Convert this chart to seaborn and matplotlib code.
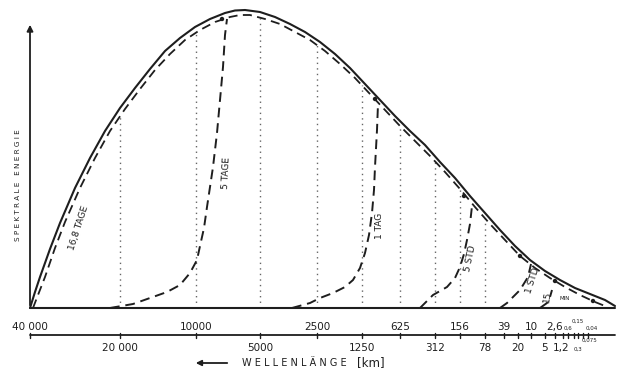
import numpy as np
import matplotlib
matplotlib.use("Agg")
import matplotlib.pyplot as plt
import seaborn as sns

# Lage entlang der Wellenlaengen-Achse (0 = 40 000 km), Energie in willk. Einheiten
env_x = [0, 5, 10, 20, 30, 45, 60, 75, 90, 105, 120, 135, 150, 165, 180, 195, 205, 215,
         230, 245, 260, 275, 290, 305, 320, 335, 350, 365, 380, 395, 410, 425, 440, 455,
         470, 485, 500, 515, 530, 545, 560, 575, 585]
env_y = [0, 16, 31, 59, 85, 120, 150, 177, 200, 220, 239, 257, 270, 281, 289, 295, 297.5, 298,
         296, 291, 284, 276, 266, 254, 240, 224, 208, 192, 177, 163, 146, 130, 112, 95,
         78, 62, 48, 37, 28, 20, 14, 8, 2]

dash_x = [3, 8, 15, 25, 35, 50, 65, 80, 95, 110, 125, 140, 155, 170, 185, 200, 210, 220,
          235, 250, 265, 280, 295, 310, 325, 340, 355, 370, 385, 400, 415, 430, 445, 460,
          475, 490, 505, 520, 535, 550, 565, 575]
dash_y = [0, 13, 31, 60, 86, 120, 150, 177, 199, 219, 238, 254, 268, 278, 286, 291, 293, 293,
          289, 284, 276, 268, 257, 244, 230, 214, 198, 182, 167, 152, 136, 119, 101, 84,
          68, 52, 40, 30, 21, 13, 6, 2]

# Zeitliche Entwicklung (Aeste vom Boden bis zur Einmuendung)
tage5_x = [80, 103, 120, 137, 150, 160, 167, 170, 174, 177, 183, 187, 190, 193, 195, 197]
tage5_y = [0, 4, 10, 16, 23, 35, 48, 62, 80, 101, 141, 175, 208, 241, 273, 289]
tag1_x = [262, 280, 290, 303, 315, 323, 330, 335, 339, 342, 344, 345, 347, 348]
tag1_y = [0, 5, 10, 15, 21, 28, 40, 55, 73, 95, 118, 141, 178, 204]
std5_x = [390, 403, 417, 425, 430, 434, 437, 440, 442]
std5_y = [0, 13, 21, 30, 41, 54, 68, 84, 102]
std1_x = [470, 477, 490, 498, 501]
std1_y = [0, 5, 18, 31, 44]
min15_x = [510, 517, 520, 522]
min15_y = [0, 5, 11, 18]

dots_x = [192, 345, 434, 490, 525, 563]
dots_y = [289, 209, 112, 52, 27, 7]

# Wellenlaengen-Skala
tick_pos = [0, 90, 166, 230, 287, 332, 370, 405, 430, 455, 474, 488, 501, 515, 525, 533,
            538, 544, 548, 553, 558]
tick_lab = ["40 000", "20 000", "10000", "5000", "2500", "1250", "625", "312", "156", "78",
            "39", "20", "10", "5", "2,6", "1,2", "0,6", "0,3", "0,15", "0,075", "0,04"]

curve_labels = ["16,8 TAGE", "5 TAGE", "1 TAG", "5 STD", "1 STD", "15"]
label_x = [49, 196, 349, 440, 503, 517]
label_y = [80, 135, 82, 50, 27, 11]
label_rot = [72, 87, 90, 78, 72, 80]

ink = "#1e1e1e"
sns.set_style("white")
plt.rcParams["font.family"] = ["DejaVu Sans"]

fig = plt.figure(figsize=(6.24, 3.74), dpi=100)
ax = fig.add_axes([0, 0, 1, 1])
ax.set_xlim(-30, 594)
ax.set_ylim(-66, 308)
ax.axis("off")

# gepunktete Senkrechte bis zur gestrichelten Kurve
for p in tick_pos[1:10]:
    top = np.interp(p, dash_x, dash_y)
    ax.plot([p, p], [0, top], color="#666666", lw=1.0, ls=(0, (1, 3)))

sns.lineplot(x=env_x, y=env_y, ax=ax, color=ink, lw=1.5, sort=False, estimator=None)
sns.lineplot(x=dash_x, y=dash_y, ax=ax, color=ink, lw=1.3, sort=False, estimator=None,
             linestyle=(0, (5, 3)))
for bx, by in [(tage5_x, tage5_y), (tag1_x, tag1_y), (std5_x, std5_y),
               (std1_x, std1_y), (min15_x, min15_y)]:
    sns.lineplot(x=bx, y=by, ax=ax, color=ink, lw=1.4, sort=False, estimator=None,
                 linestyle=(0, (5, 3)))
sns.scatterplot(x=dots_x, y=dots_y, ax=ax, color=ink, s=10, edgecolor="none", zorder=5)

# Achsen
ax.annotate("", xy=(0, 286), xytext=(0, 0),
            arrowprops=dict(arrowstyle="-|>", color=ink, lw=1.3, mutation_scale=9))
ax.plot([0, 585], [0, 0], color=ink, lw=1.5)
ax.plot([0, 585], [-27, -27], color=ink, lw=1.3)

# kleine Beschriftungen am rechten Ende: (dx, y)
small_place = {"0,6": (0, -20), "0,3": (4, -41), "0,15": (0, -13),
               "0,075": (7, -32), "0,04": (4, -20)}
for i, (p, t) in enumerate(zip(tick_pos, tick_lab)):
    ax.plot([p, p], [-24.5, -29.5], color=ink, lw=1.0)
    if t in small_place:
        dx, yy = small_place[t]
        ax.text(p + dx, yy, t, ha="center", va="center", fontsize=4, color=ink)
    elif i % 2 == 0:
        ax.text(p, -19, t, ha="center", va="center", fontsize=7.5, color=ink)
    else:
        ax.text(p - (2 if t == "1,2" else 0), -40, t, ha="center", va="center",
                fontsize=7.5, color=ink)

ax.annotate("", xy=(163, -55), xytext=(200, -55),
            arrowprops=dict(arrowstyle="-|>", color=ink, lw=1.3, mutation_scale=8))
ax.text(212, -55, "W E L L E N L Ä N G E", ha="left", va="center",
        fontsize=7, color=ink)
ax.text(327, -55, "[km]", ha="left", va="center", fontsize=8.5, color=ink)
ax.text(-12, 123, "S P E K T R A L E   E N E R G I E", ha="center", va="center",
        rotation=90, fontsize=5.2, color=ink)

for t, x, y, r in zip(curve_labels, label_x, label_y, label_rot):
    ax.text(x, y, t, ha="center", va="center", rotation=r, fontsize=6.5, color=ink,
            rotation_mode="anchor")
ax.text(535, 10, "MIN", ha="center", va="center", fontsize=4, color=ink)

fig.savefig("out.png", dpi=100)
